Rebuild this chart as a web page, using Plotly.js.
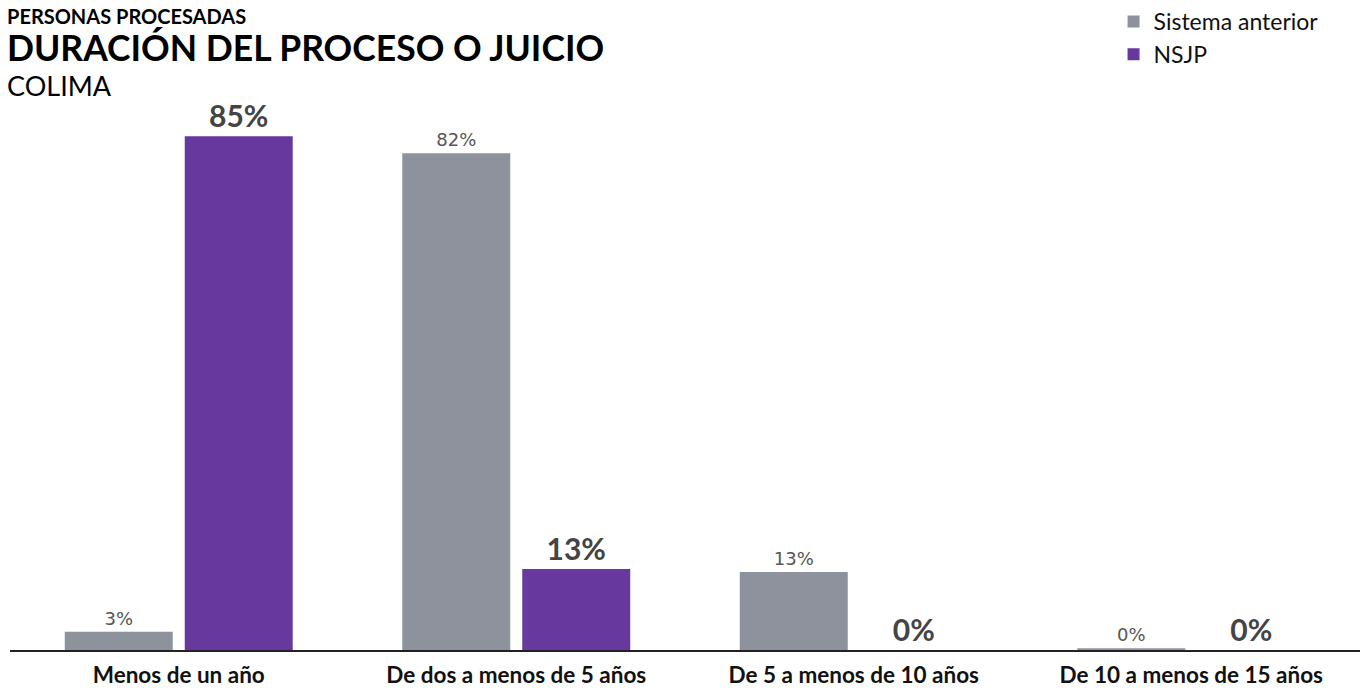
<!DOCTYPE html>
<html>
<head>
<meta charset="utf-8">
<script src="https://cdn.plot.ly/plotly-3.0.1.min.js"></script>
<style>html,body{margin:0;padding:0;background:#fff;}#chart{width:1372px;height:688px;}</style>
</head>
<body>
<div id="chart"></div>
<script>
const categories = ["Menos de un año", "De dos a menos de 5 años", "De 5 a menos de 10 años", "De 10 a menos de 15 años"];
const seriesNames = ["Sistema anterior", "NSJP"];
const anteriorValues = [3.0, 82.2, 12.9, 0.3];
const nsjpValues = [85.0, 13.4, 0, 0];
const anteriorLabels = ["3%", "82%", "13%", "0%"];
const nsjpLabels = ["85%", "13%", "0%", "0%"];

const traces = [
  {
    type: "bar", name: seriesNames[0], x: categories, y: anteriorValues,
    text: anteriorLabels, textposition: "outside", cliponaxis: false,
    textfont: {family: "DejaVu Sans", size: 18, color: "#555555"},
    marker: {color: "#8e929d"}, hoverinfo: "none"
  },
  {
    type: "bar", name: seriesNames[1], x: categories, y: nsjpValues,
    text: nsjpLabels, textposition: "outside", cliponaxis: false,
    textfont: {family: "Lato", size: 30, color: "#444444", weight: "bold"},
    marker: {color: "#67389e"}, hoverinfo: "none"
  }
];

const layout = {
  width: 1372, height: 688,
  margin: {l: 10, r: 12, t: 106, b: 38},
  paper_bgcolor: "#ffffff", plot_bgcolor: "#ffffff",
  barmode: "group", bargap: 0.289, bargroupgap: 0.1,
  showlegend: true,
  legend: {x: 0.973, xanchor: "right", y: 1.01, yref: "container", yanchor: "top",
    font: {family: "Lato", size: 23, color: "#111111"}, tracegroupgap: 0, itemwidth: 30,
    bgcolor: "rgba(0,0,0,0)"},
  xaxis: {
    showgrid: false, showline: true, linecolor: "#222222", linewidth: 2,
    ticks: "", tickfont: {family: "Lato", size: 22.5, color: "#111111", weight: "bold"},
    ticklabelstandoff: 4
  },
  yaxis: {range: [0, 90], visible: false, showgrid: false, zeroline: false},
  annotations: [
    {text: "<b>PERSONAS PROCESADAS</b>", xref: "paper", x: 0, xshift: -4, yref: "paper", y: 1, yshift: 103,
     xanchor: "left", yanchor: "top", showarrow: false, borderpad: 0, font: {family: "Lato", size: 20, color: "#000000"}},
    {text: "<b>DURACIÓN DEL PROCESO O JUICIO</b>", xref: "paper", x: 0, xshift: -4, yref: "paper", y: 1, yshift: 81,
     xanchor: "left", yanchor: "top", showarrow: false, borderpad: 0, font: {family: "Lato", size: 35.5, color: "#000000"}},
    {text: "COLIMA", xref: "paper", x: 0, xshift: -4, yref: "paper", y: 1, yshift: 38,
     xanchor: "left", yanchor: "top", showarrow: false, borderpad: 0, font: {family: "Lato", size: 27, color: "#000000"}}
  ]
};

Plotly.newPlot("chart", traces, layout, {displayModeBar: false, staticPlot: true});
</script>
</body>
</html>
